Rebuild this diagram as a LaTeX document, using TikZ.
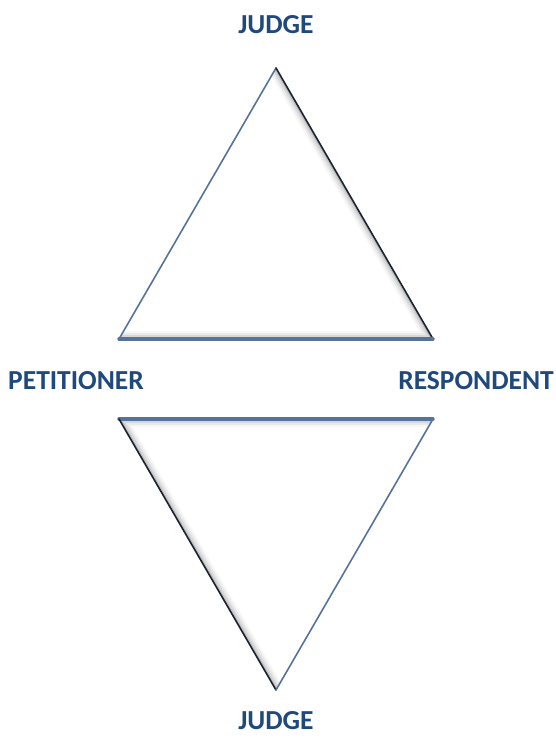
\documentclass[tikz,border=0pt]{standalone}
\usepackage{fontspec}
\setmainfont{Carlito}
\definecolor{partyblue}{HTML}{1F497D}
\definecolor{steel}{HTML}{56739A}
\definecolor{inkline}{HTML}{1B2333}
\tikzset{
    party/.style={font=\bfseries\fontsize{27.5}{30}\selectfont, text=partyblue, inner sep=0pt},
    litedge/.style={steel, line width=1.6pt, line cap=round},
    baseedge/.style={steel, line width=3.4pt, line cap=round},
    darkedge/.style={inkline, line width=1.6pt, line cap=round}
}
\begin{document}
\begin{tikzpicture}[x=1pt, y=-1pt]
    \useasboundingbox (0,0) rectangle (556,744);
        % Corners of the two triangles
            \coordinate (top)  at (276, 68);
            \coordinate (ul)   at (119, 339);
            \coordinate (ur)   at (433, 339);
            \coordinate (ll)   at (119, 419);
            \coordinate (lr)   at (433, 419);
            \coordinate (bot)  at (276, 690);
        % Names of the parties
            \node[party] (judgetop) at (276, 25)  {JUDGE};
            \node[party] (pet)      at (76, 381)  {PETITIONER};
            \node[party] (resp)     at (476, 381) {RESPONDENT};
            \node[party] (judgebot) at (276, 721) {JUDGE};
        % Soft inner shading, upper triangle
            \begin{scope}
                \clip (top) -- (ul) -- (ur) -- cycle;
                \foreach \w/\o in {16/0.03, 12/0.05, 8/0.08, 4/0.12}
                    \draw[black, line width=\w pt, opacity=\o] (ul) -- (ur) -- (top);
            \end{scope}
        % Soft inner shading, lower triangle
            \begin{scope}
                \clip (ll) -- (lr) -- (bot) -- cycle;
                \foreach \w/\o in {16/0.03, 12/0.05, 8/0.08, 4/0.12}
                    \draw[black, line width=\w pt, opacity=\o] (bot) -- (ll) -- (lr);
            \end{scope}
        % Edges of the upper triangle
            \draw[litedge] (ul) -- (top);
            \draw[darkedge] (top) -- (ur);
            \draw[baseedge] (ul) -- (ur);
        % Edges of the lower triangle
            \draw[baseedge] (ll) -- (lr);
            \draw[darkedge] (ll) -- (bot);
            \draw[litedge] (lr) -- (bot);
\end{tikzpicture}
\end{document}
